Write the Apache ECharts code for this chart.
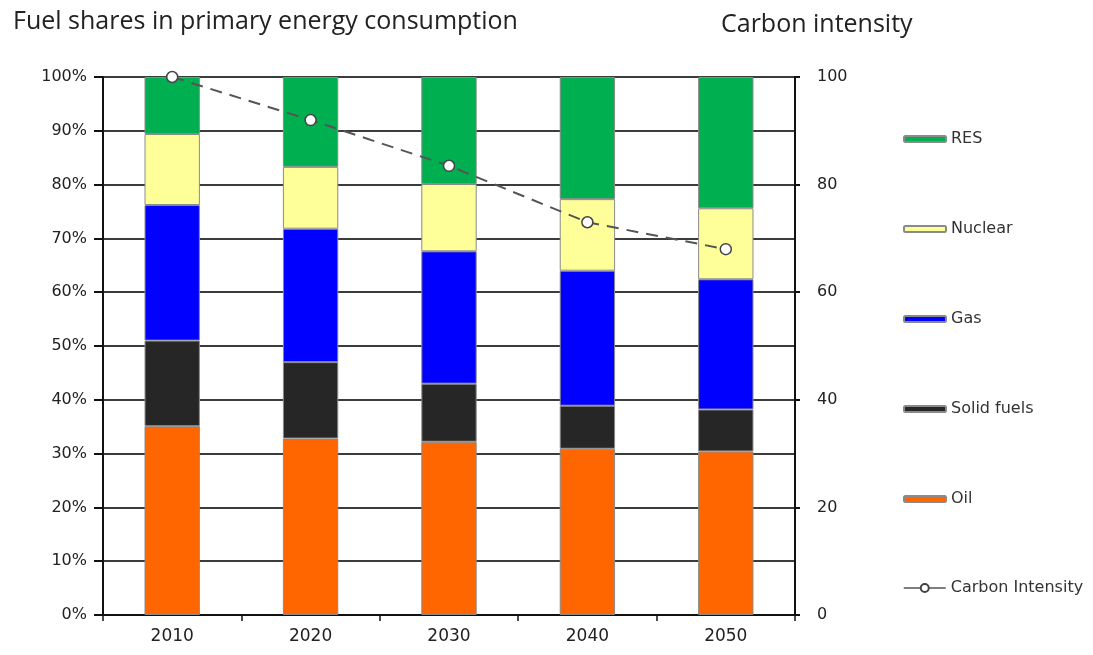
<!DOCTYPE html>
<html>
<head>
<meta charset="utf-8">
<script src="https://cdn.jsdelivr.net/npm/echarts@6/dist/echarts.min.js"></script>
<style>
html,body{margin:0;padding:0;background:#fff;}
#chart{width:1093px;height:655px;}
</style>
</head>
<body>
<div id="chart"></div>
<script>
var categories = ['2010', '2020', '2030', '2040', '2050'];
var oil = [35.1, 32.8, 32.2, 30.9, 30.4];
var solidFuels = [15.9, 14.2, 10.8, 8.0, 7.8];
var gas = [25.2, 24.8, 24.6, 25.1, 24.2];
var nuclear = [13.2, 11.5, 12.5, 13.3, 13.2];
var res = [10.6, 16.7, 19.9, 22.7, 24.4];
var carbonIntensity = [100, 92, 83.5, 73, 68];
var leftTicks = [0, 100, 10];
var rightTicks = [0, 100, 20];

var chart = echarts.init(document.getElementById('chart'), null, {renderer: 'canvas'});
var tickFont = 'DejaVu Sans';
var barBorder = {borderColor: '#8a8a8a', borderWidth: 1};
function barSeries(name, data, color) {
  return {
    name: name, type: 'bar', stack: 'fuel', data: data, barWidth: '40%',
    itemStyle: Object.assign({color: color}, barBorder),
    emphasis: {disabled: true}
  };
}
var legendText = {fontFamily: tickFont, fontSize: 16, color: '#333', lineHeight: 16};
var option = {
  animation: false,
  backgroundColor: '#ffffff',
  title: [
    {text: 'Fuel shares in primary energy consumption', left: 8, top: 4,
     textStyle: {fontFamily: 'Open Sans', fontSize: 25, fontWeight: 'normal', color: '#222'}},
    {text: 'Carbon intensity', left: 716, top: 7,
     textStyle: {fontFamily: 'Open Sans', fontSize: 25, fontWeight: 'normal', color: '#222'}}
  ],
  grid: {left: 103, right: 298, top: 77, bottom: 40},
  legend: [
    {orient: 'vertical', left: 898, top: 126, itemWidth: 42, itemHeight: 6, itemGap: 74,
     textStyle: legendText,
     data: ['RES', 'Nuclear', 'Gas', 'Solid fuels', 'Oil']},
    {orient: 'vertical', left: 898, top: 575, itemWidth: 42, itemHeight: 10,
     textStyle: legendText,
     data: [{name: 'Carbon Intensity', lineStyle: {type: 'solid', width: 1.5}}]}
  ],
  xAxis: {
    type: 'category', data: categories,
    axisLine: {lineStyle: {color: '#111', width: 2}},
    axisTick: {show: true, length: 6, lineStyle: {color: '#111', width: 1.5}},
    axisLabel: {fontFamily: tickFont, fontSize: 17, color: '#222', margin: 13}
  },
  yAxis: [
    {type: 'value', min: leftTicks[0], max: leftTicks[1], interval: leftTicks[2],
     axisLine: {show: true, lineStyle: {color: '#111', width: 2}},
     axisTick: {show: true, length: 9, lineStyle: {color: '#111', width: 2}},
     axisLabel: {fontFamily: tickFont, fontSize: 16, color: '#222', margin: 16, formatter: '{value}%'},
     splitLine: {show: true, lineStyle: {color: '#3c3c3c', width: 2}}},
    {type: 'value', min: rightTicks[0], max: rightTicks[1], interval: rightTicks[2], position: 'right',
     axisLine: {show: true, lineStyle: {color: '#111', width: 2}},
     axisTick: {show: true, length: 5, lineStyle: {color: '#111', width: 2}},
     axisLabel: {fontFamily: tickFont, fontSize: 16, color: '#222', margin: 22},
     splitLine: {show: false}}
  ],
  series: [
    barSeries('Oil', oil, '#ff6600'),
    barSeries('Solid fuels', solidFuels, '#262626'),
    barSeries('Gas', gas, '#0000ff'),
    barSeries('Nuclear', nuclear, '#ffff99'),
    barSeries('RES', res, '#00b050'),
    {name: 'Carbon Intensity', type: 'line', yAxisIndex: 1, data: carbonIntensity, z: 10,
     symbol: 'circle', symbolSize: 11,
     lineStyle: {color: '#555', width: 2, type: [12, 8]},
     itemStyle: {color: '#ffffff', borderColor: '#444', borderWidth: 1.5},
     emphasis: {disabled: true}}
  ]
};
chart.setOption(option);
</script>
</body>
</html>
